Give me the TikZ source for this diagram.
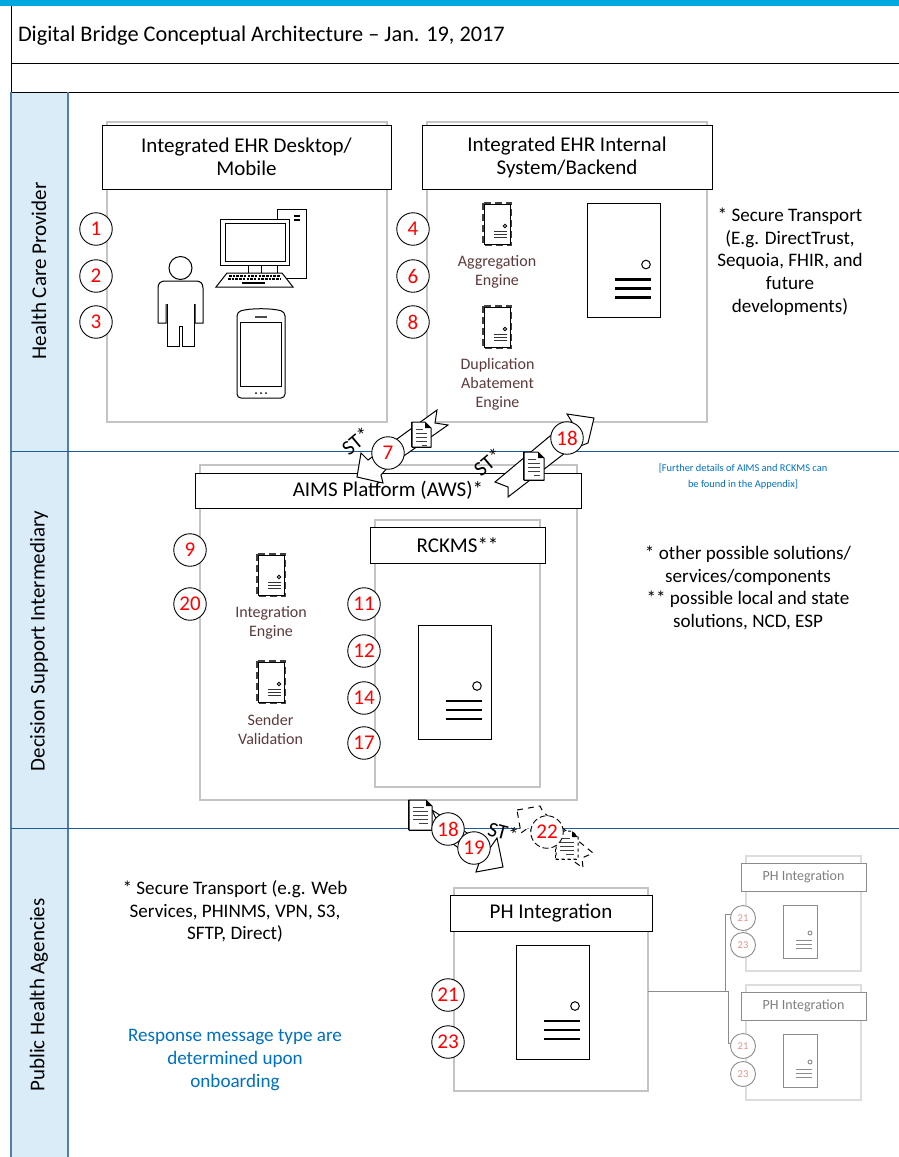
\documentclass[tikz,border=0pt]{standalone}
\usepackage{fontspec}
\setmainfont{Carlito}
\definecolor{lanefill}{HTML}{D9ECF8}
\definecolor{lanedge}{HTML}{4F81A8}
\definecolor{laneline}{HTML}{1F5C94}
\definecolor{topbar}{HTML}{00A8E0}
\definecolor{panelgray}{HTML}{C4C4C4}
\definecolor{fadegray}{HTML}{DDDDDD}
\definecolor{fadeline}{HTML}{8C8C8C}
\definecolor{fadetext}{HTML}{7F7F7F}
\definecolor{fadered}{HTML}{E8908C}
\definecolor{brown}{HTML}{5C3A3A}
\definecolor{noteblue}{HTML}{0070C0}
\tikzset{
  every node/.style={inner sep=0pt,outer sep=0pt},
  panel/.style={draw=panelgray,line width=1.3pt,fill=white},
  panelfade/.style={draw=fadegray,line width=1.5pt,fill=white},
  headbox/.style={draw=black,line width=1pt,fill=white,font=\fontsize{21}{23}\selectfont,align=center},
  headfade/.style={draw=fadeline,line width=1pt,fill=white,text=fadetext,font=\fontsize{14}{16}\selectfont},
  num/.style={circle,draw=black,line width=0.9pt,fill=white,minimum size=32.5pt,text=red,font=\fontsize{21}{24}\selectfont},
  numdash/.style={num,dashed},
  numfade/.style={circle,draw=fadeline,line width=0.9pt,fill=white,minimum size=25pt,text=fadered,font=\fontsize{10.5}{12}\selectfont},
  lanetext/.style={rotate=90,font=\fontsize{21}{24}\selectfont},
  note/.style={align=center,font=\fontsize{19.1}{22.7}\selectfont},
  icontext/.style={align=center,text=brown,font=\fontsize{16}{18.8}\selectfont},
  st/.style={font=\fontsize{21}{24}\selectfont},
  block/.style={draw=black,line width=1pt,fill=white,line join=miter},
  blockdash/.style={block,dash pattern=on 6pt off 5pt},
}
% big server: top-left x, y
\newcommand{\bigserver}[2]{%
  \begin{scope}[shift={(#1,#2)}]
    \draw[black,line width=1pt,fill=white] (0,0) rectangle (73,114);
    \draw[black,line width=1pt] (59,61) circle (4.3);
    \draw[black,line width=2.4pt] (28,76) -- (64,76) (28,85) -- (64,85) (28,94) -- (64,94);
  \end{scope}}
% small engine icon
\newcommand{\engineicon}[2]{%
  \begin{scope}[shift={(#1,#2)}]
    \draw[black!75,line width=2pt,dash pattern=on 7pt off 4pt] (-1,-1) rectangle (27,41);
    \draw[black,line width=0.9pt,fill=white] (0,0) rectangle (26,40);
    \draw[black,line width=0.8pt] (21,22) circle (1.7);
    \draw[black!80,line width=0.8pt] (10,27) -- (23,27) (10,30) -- (23,30) (10,33) -- (23,33);
  \end{scope}}
% small faded server
\newcommand{\fadeserver}[2]{%
  \begin{scope}[shift={(#1,#2)}]
    \draw[fadeline,line width=1pt,fill=white] (0,0) rectangle (34,53);
    \draw[fadeline,line width=0.9pt] (27,28) circle (2);
    \draw[fadeline,line width=0.9pt] (13,35) -- (29,35) (13,39) -- (29,39) (13,43) -- (29,43);
  \end{scope}}
% document icon
\newcommand{\docicon}[5][]{%
  \begin{scope}[shift={(#2,#3)}]
    \draw[black,line width=1pt,fill=white,#1] (0,0) -- (#4-6,0) -- (#4,6) -- (#4,#5) -- (0,#5) -- cycle;
    \fill[black] (#4-6,0) -- (#4,6) -- (#4-6,6) -- cycle;
    \draw[black,line width=1.8pt,#1] (0,#5+0.5) -- (#4,#5+0.5) (-0.5,0) -- (-0.5,#5);
    \draw[black!75,line width=0.8pt] (4,7) -- (#4-8,7) (4,11) -- (#4-4,11) (4,15) -- (#4-4,15) (4,19) -- (#4-4,19) (10,23) -- (#4-4,23);
  \end{scope}}
\begin{document}
\begin{tikzpicture}[x=1pt,y=-1pt]
\useasboundingbox (0,0) rectangle (899,1157);
\fill[white] (0,0) rectangle (899,1157);
% frame
\fill[topbar] (0,0) rectangle (899,5.5);
\fill[lanefill] (11,92) rectangle (68,1157);
\draw[black,line width=1pt] (11,5.5) -- (11,92) (11,63) -- (899,63) (11,92) -- (899,92);
\draw[lanedge,line width=1.3pt] (11,92) -- (11,1157) (68,92) -- (68,1157);
\draw[laneline,line width=1pt] (11,451) -- (899,451) (11,828) -- (899,828);
\node[anchor=west,font=\fontsize{22.3}{26}\selectfont] (title) at (18,35.5) {Digital Bridge Conceptual Architecture – Jan. 19, 2017};
\node[lanetext] (lane1) at (39,271) {Health Care Provider};
\node[lanetext] (lane2) at (39,641) {Decision Support Intermediary};
\node[lanetext] (lane3) at (39,995) {Public Health Agencies};
% panels
\draw[panel] (107,122) rectangle (387,422);
\draw[panel] (427,122) rectangle (707,422);
\node[headbox,minimum width=289pt,minimum height=64pt] (h1) at (246.5,157) {Integrated EHR Desktop/\\Mobile};
\node[headbox,minimum width=290pt,minimum height=64pt] (h2) at (567,157) {Integrated EHR Internal\\System/Backend};
\draw[panel] (200,465) rectangle (577,800);
\node[headbox,minimum width=386pt,minimum height=35pt] (h3) at (388,490.5) {AIMS Platform (AWS)*};
\draw[panel] (375,520) rectangle (540,787);
\node[headbox,minimum width=175pt,minimum height=36pt] (h4) at (457.5,545) {RCKMS**};
\draw[panel] (454,888) rectangle (648,1091);
\node[headbox,minimum width=202pt,minimum height=36pt] (h5) at (551,913) {PH Integration};
\draw[panelfade] (746,856) rectangle (861,971);
\node[headfade,minimum width=125pt,minimum height=28pt] (h6) at (803.5,877) {PH Integration};
\draw[panelfade] (746,985) rectangle (861,1100);
\node[headfade,minimum width=125pt,minimum height=28pt] (h7) at (803.5,1006) {PH Integration};
% computer
\draw[black,line width=1pt,fill=white] (277,209) rectangle (306,278);
\draw[black,line width=1.6pt] (294,216) -- (300,216) (294,220) -- (300,220);
\draw[black,line width=1pt,fill=white] (248,265) rectangle (261,273);
\draw[black,line width=1pt,fill=white] (220,219) rectangle (289,265);
\draw[black,line width=1pt] (225,223) rectangle (285,261);
\draw[black,line width=1pt,fill=white] (216,287) -- (227,273) -- (282,273) -- (293,287) -- cycle;
\draw[black,line width=1.3pt,dash pattern=on 2.5pt off 1.2pt] (229,276) -- (280,276) (228,279) -- (281,279);
\draw[black,line width=1.6pt] (242,283) -- (265,283);
% person
\draw[black,line width=1pt] (180.5,268) circle (11.5);
\draw[black,line width=1pt] (166,304) -- (166,323) -- (158,323) -- (158,288) .. controls (158,283) and (161,281) .. (165,281) -- (196,281) .. controls (200,281) and (203,283) .. (203,288) -- (203,323) -- (195,323) -- (195,304);
\draw[black,line width=1pt] (167,304) -- (167,346) -- (179,346) -- (179,326) -- (182,326) -- (182,346) -- (194,346) -- (194,304);
% phone
\draw[black,line width=1pt,rounded corners=4pt] (237,398) -- (237,312) .. controls (250,308) and (272,308) .. (285,312) -- (285,398) -- cycle;
\draw[black,line width=1pt] (240.5,322) rectangle (281.5,386);
\draw[black!70,line width=1.2pt] (255,317) -- (267,317);
\fill[black] (256,393) circle (1) (261,393) circle (1) (266,393) circle (1);
% servers
\bigserver{587}{203.5}
\bigserver{418}{625}
\bigserver{516}{945}
\engineicon{484}{204}
\engineicon{484}{307}
\engineicon{258}{555}
\engineicon{258}{662}
\fadeserver{783}{905}
\fadeserver{783}{1034}
% icon labels
\node[icontext] (t1) at (497,271.5) {Aggregation\\Engine};
\node[icontext] (t2) at (497.5,384.5) {Duplication\\Abatement\\Engine};
\node[icontext] (t3) at (271,622.5) {Integration\\Engine};
\node[icontext] (t4) at (270.5,729.5) {Sender\\Validation};
% notes
\node[note] (n1) at (790,261.5) {* Secure Transport\\(E.g. DirectTrust,\\Sequoia, FHIR, and\\future\\developments)};
\node[align=center,text=noteblue,font=\fontsize{10.4}{16}\selectfont] (n2) at (743,477) {[Further details of AIMS and RCKMS can\\be found in the Appendix]};
\node[note] (n3) at (748,588) {* other possible solutions/\\services/components\\** possible local and state\\solutions, NCD, ESP};
\node[note] (n4) at (235,911.5) {* Secure Transport (e.g. Web\\Services, PHINMS, VPN, S3,\\SFTP, Direct)};
\node[note,text=noteblue] (n5) at (235,1060) {Response message type are\\determined upon\\onboarding};
% block arrows
\draw[block] (437,410) -- (435,423) -- (448,425) -- (388,467) -- (381,475) -- (383,483) -- (357,477) -- (361,453) -- (368,460) -- cycle;
\draw[block] (495,482) -- (508,487) -- (508,497) -- (565,453) -- (578,447) -- (588,443) -- (594,418) -- (567,414) -- (572,422) -- (550,436) -- cycle;
\draw[block] (432,810) -- (490,848) -- (497,838) -- (503,867) -- (476,872) -- (479,863) -- (445,838) -- cycle;
\draw[blockdash] (517,810) -- (540,806) -- (543,812) -- (593,853) -- (582,858) -- (583,868) -- (528,828) -- (521,833) -- cycle;
% documents
\docicon{412}{422}{19}{25}
\docicon{524}{452}{20}{28}
\docicon{409}{800}{23}{30}
\docicon[dashed]{556}{831}{22}{28}
\node[st,rotate=40] (st1) at (356,441) {ST*};
\node[st,rotate=40] (st2) at (488,462) {ST*};
\node[st,rotate=-15] (st3) at (503,832) {ST*};
% numbers
\node[num] (c1) at (96,229) {1};
\node[num] (c2) at (96,276) {2};
\node[num] (c3) at (96,322) {3};
\node[num] (c4) at (413,229) {4};
\node[num] (c6) at (413,276) {6};
\node[num] (c8) at (413,322) {8};
\node[num] (c7) at (388,453) {7};
\node[num] (c18a) at (567,438) {18};
\node[num] (c9) at (190,550) {9};
\node[num] (c20) at (190,604) {20};
\node[num] (c11) at (364,604) {11};
\node[num] (c12) at (364,651) {12};
\node[num] (c14) at (364,698) {14};
\node[num] (c17) at (364,743) {17};
\node[num] (c18b) at (448,829) {18};
\node[num] (c19) at (474,848) {19};
\node[numdash,dash pattern=on 6pt off 3pt] (c22) at (547,832) {22};
\node[num] (c21) at (448,995) {21};
\node[num] (c23) at (448,1042) {23};
\node[numfade] (d21) at (743,918) {21};
\node[numfade] (d23) at (743,945) {23};
\node[numfade] (e21) at (743,1046) {21};
\node[numfade] (e23) at (743,1074) {23};
% connector to faded systems
\coordinate (src) at (648,991);
\coordinate (j1) at (725,991);
\coordinate (j2) at (728,991);
\coordinate (d21in) at (731,914);
\coordinate (e21in) at (731,1043);
\draw[fadeline,line width=1pt] (src) -- (j2) -- (e21in -| j2) -- (e21in);
\draw[fadeline,line width=1pt] (j1) -- (d21in -| j1) -- (d21in);
\end{tikzpicture}
\end{document}
